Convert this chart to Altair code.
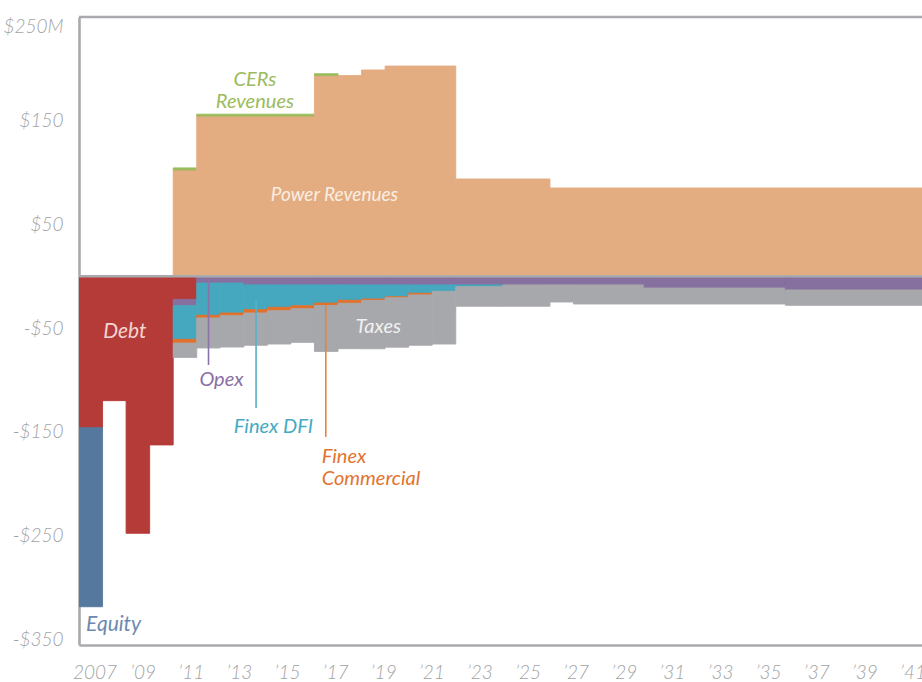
import altair as alt
import pandas as pd

# ---------------------------------------------------------------------------
# Annual project cash flows, $ millions (outflows entered as positive amounts)
# ---------------------------------------------------------------------------
years = list(range(2007, 2043))

power_revenues = [0, 0, 0, 0, 102.5, 154.5, 154.5, 154.5, 154.5, 154.5,
                  193.5, 193.5, 198.9, 202.7, 202.7, 202.7,
                  93.8, 93.8, 93.8, 93.8,
                  85.1, 85.1, 85.1, 85.1, 85.1, 85.1, 85.1, 85.1,
                  85.1, 85.1, 85.1, 85.1, 85.1, 85.1, 85.1, 85.1]
cers_revenues = [0, 0, 0, 0, 2.0, 1.8, 1.8, 1.8, 1.8, 1.8,
                 1.8, 0, 0, 0, 0, 0,
                 0, 0, 0, 0,
                 0, 0, 0, 0, 0, 0, 0, 0,
                 0, 0, 0, 0, 0, 0, 0, 0]
debt = [146.0, 119.9, 247.8, 162.6, 22.2, 0, 0, 0, 0, 0,
        0, 0, 0, 0, 0, 0,
        0, 0, 0, 0,
        0, 0, 0, 0, 0, 0, 0, 0,
        0, 0, 0, 0, 0, 0, 0, 0]
opex = [0, 0, 0, 0, 6.2, 6.5, 6.5, 8.3, 8.3, 8.3,
        8.3, 8.3, 8.3, 8.3, 8.3, 8.3,
        8.3, 8.3, 8.3, 8.3,
        8.3, 8.3, 8.3, 8.3, 11.3, 11.3, 11.3, 11.3,
        11.3, 11.3, 13.2, 13.2, 13.2, 13.2, 13.2, 13.2]
finex_dfi = [0, 0, 0, 0, 32.4, 31.1, 28.9, 23.9, 21.6, 20.1,
             17.5, 14.8, 13.6, 11.4, 8.1, 6.2,
             1.7, 1.7, 0, 0,
             0, 0, 0, 0, 0, 0, 0, 0,
             0, 0, 0, 0, 0, 0, 0, 0]
finex_commercial = [0, 0, 0, 0, 3.6, 2.6, 2.6, 3.2, 3.3, 2.9,
                    2.4, 2.9, 1.3, 1.0, 1.6, 0,
                    0, 0, 0, 0,
                    0, 0, 0, 0, 0, 0, 0, 0,
                    0, 0, 0, 0, 0, 0, 0, 0]
taxes = [0, 0, 0, 0, 13.8, 28.9, 30.2, 31.1, 32.1, 32.4,
         44.2, 43.8, 46.7, 47.6, 48.5, 50.8,
         18.9, 18.9, 20.6, 20.6,
         16.5, 18.4, 18.4, 18.4, 15.4, 15.4, 15.4, 15.4,
         15.4, 15.4, 14.8, 14.8, 14.8, 14.8, 14.8, 14.8]
equity = [172.6, 0, 0, 0, 0, 0, 0, 0, 0, 0,
          0, 0, 0, 0, 0, 0,
          0, 0, 0, 0,
          0, 0, 0, 0, 0, 0, 0, 0,
          0, 0, 0, 0, 0, 0, 0, 0]

# Axis ticks
x_tick_years = [2007, 2009, 2011, 2013, 2015, 2017, 2019, 2021, 2023,
                2025, 2027, 2029, 2031, 2033, 2035, 2037, 2039, 2041]
y_tick_values = [250, 150, 50, -50, -150, -250, -350]

# Series colours
C_POWER = "#E4AC81"
C_CERS = "#9BBB5C"
C_DEBT = "#B53B38"
C_OPEX = "#85709F"
C_DFI = "#46A8BE"
C_COMM = "#E2712B"
C_TAX = "#A7A8AB"
C_EQUITY = "#55789E"
C_FRAME = "#A9AAAD"
C_TICKTEXT = "#A2A3A6"

inflows = [("Power Revenues", power_revenues, C_POWER),
           ("CERs Revenues", cers_revenues, C_CERS)]
outflows = [("Debt", debt, C_DEBT),
            ("Opex", opex, C_OPEX),
            ("Finex DFI", finex_dfi, C_DFI),
            ("Finex Commercial", finex_commercial, C_COMM),
            ("Taxes", taxes, C_TAX),
            ("Equity", equity, C_EQUITY)]

# Stack inflows upward and outflows downward from zero, one step per year
rows = []
for i, yr in enumerate(years):
    top = 0.0
    for name, vals, col in inflows:
        v = vals[i]
        if v > 0:
            rows.append(dict(series=name, start=yr, end=yr + 1,
                             lo=round(top, 3), hi=round(top + v, 3), color=col))
            top += v
    bottom = 0.0
    for name, vals, col in outflows:
        v = vals[i]
        if v > 0:
            rows.append(dict(series=name, start=yr, end=yr + 1,
                             lo=round(bottom - v, 3), hi=round(bottom, 3), color=col))
            bottom -= v

# Join consecutive years whose segment is unchanged into one wider step
segments = []
last_by_key = {}
for r in rows:
    key = (r["series"], r["lo"], r["hi"])
    prev = last_by_key.get(key)
    if prev is not None and prev["end"] == r["start"]:
        prev["end"] = r["end"]
    else:
        seg = dict(r)
        last_by_key[key] = seg
        segments.append(seg)
flows = pd.DataFrame(segments)

# In-chart labels (year position, $M baseline) and their leader lines
centered_labels = pd.DataFrame([
    dict(text="CERs", x=2014.47, y=183.0, color=C_CERS, size=20),
    dict(text="Revenues", x=2014.47, y=162.0, color=C_CERS, size=20),
    dict(text="Power Revenues", x=2017.85, y=72.6, color="#FAEEE3", size=19),
    dict(text="Debt", x=2008.95, y=-59.5, color="#F1D5D2", size=21),
    dict(text="Taxes", x=2019.71, y=-54.7, color="#F1F1F2", size=20),
    dict(text="Opex", x=2013.05, y=-105.8, color="#8A6FA5", size=20),
    dict(text="Finex DFI", x=2015.26, y=-151.1, color="#45AAC2", size=20),
])
left_labels = pd.DataFrame([
    dict(text="Finex", x=2017.31, y=-180.0, color="#E3742F", size=20),
    dict(text="Commercial", x=2017.31, y=-201.2, color="#E3742F", size=20),
    dict(text="Equity", x=2007.30, y=-342.0, color="#6C89B1", size=21),
])
leaders = pd.DataFrame([
    dict(x=2012.50, y=-3.0, y2=-85.5, color="#8B72A8"),
    dict(x=2014.52, y=-22.9, y2=-127.0, color="#55B2C7"),
    dict(x=2017.48, y=-27.4, y2=-154.9, color="#E8823E"),
])

FONT = "Lato, 'Open Sans', sans-serif"
X_DOMAIN = [2007, 2042.8]
Y_DOMAIN = [-355.5, 250]

# Year labels sit a little wider apart than the yearly steps:
# first label 0.66 yr in, then 2.043 yr between consecutive labels.
LABEL_START = 0.66
LABEL_STRETCH = 1.0217
x_tick_pos = [round(2007 + LABEL_START + (yr - 2007) * LABEL_STRETCH, 4)
              for yr in x_tick_years]
label_year = f"round(2007 + (datum.value - 2007 - {LABEL_START}) / {LABEL_STRETCH})"
year_label_expr = (f"{label_year} == 2007 ? '2007' : "
                   f"'\u2019' + substring(toString({label_year}), 2)")


def xs():
    return alt.Scale(domain=X_DOMAIN, nice=False, zero=False)


def ys():
    return alt.Scale(domain=Y_DOMAIN, nice=False, zero=False)


# Same-colour outline closes the hairline seams between adjacent steps
bars = alt.Chart(flows).mark_rect(clip=True, strokeWidth=0.9).encode(
    x=alt.X("start:Q", scale=xs(),
            axis=alt.Axis(orient="bottom", values=x_tick_pos, grid=False,
                          ticks=False, title=None, domainColor=C_FRAME,
                          domainWidth=2.6, labelFont=FONT, labelFontSize=19,
                          labelFontWeight=300, labelFontStyle="italic",
                          labelColor=C_TICKTEXT, labelPadding=18,
                          labelFlush=False, labelOverlap=False,
                          labelBaseline="top", labelExpr=year_label_expr)),
    x2="end:Q",
    y=alt.Y("lo:Q", scale=ys(),
            axis=alt.Axis(orient="left", values=y_tick_values, grid=False,
                          ticks=False, title=None, domainColor=C_FRAME,
                          domainWidth=2.6, labelFont=FONT, labelFontSize=19,
                          labelFontWeight=300, labelFontStyle="italic",
                          labelColor=C_TICKTEXT, labelPadding=16,
                          labelFlush=True, labelOverlap=False,
                          labelExpr="datum.value == 250 ? '$250M' : "
                                    "(datum.value < 0 ? '-$' + (-datum.value) "
                                    ": '$' + datum.value)")),
    y2="hi:Q",
    color=alt.Color("color:N", scale=None),
    stroke=alt.Stroke("color:N", scale=None),
    tooltip=["series:N", "start:Q"],
)

# Zero baseline and the upper edge of the frame
frame_rules = alt.Chart(pd.DataFrame({"v": [0, Y_DOMAIN[1]]})).mark_rule(
    color=C_FRAME, strokeWidth=2.6
).encode(y=alt.Y("v:Q", scale=ys(), axis=None))

leader_lines = alt.Chart(leaders).mark_rule(strokeWidth=1.6).encode(
    x=alt.X("x:Q", scale=xs(), axis=None),
    y=alt.Y("y:Q", scale=ys(), axis=None),
    y2="y2:Q",
    color=alt.Color("color:N", scale=None),
)

text_center = alt.Chart(centered_labels).mark_text(
    font=FONT, fontStyle="italic", align="center", baseline="alphabetic"
).encode(
    x=alt.X("x:Q", scale=xs(), axis=None),
    y=alt.Y("y:Q", scale=ys(), axis=None),
    text="text:N",
    color=alt.Color("color:N", scale=None),
    size=alt.Size("size:Q", scale=None, legend=None),
)

text_left = alt.Chart(left_labels).mark_text(
    font=FONT, fontStyle="italic", align="left", baseline="alphabetic"
).encode(
    x=alt.X("x:Q", scale=xs(), axis=None),
    y=alt.Y("y:Q", scale=ys(), axis=None),
    text="text:N",
    color=alt.Color("color:N", scale=None),
    size=alt.Size("size:Q", scale=None, legend=None),
)

# Scales are shared; only the step layer carries axes
chart = alt.layer(
    bars, frame_rules, leader_lines, text_center, text_left
).resolve_axis(x="independent", y="independent").properties(
    width=843,
    height=628,
    autosize=alt.AutoSizeParams(type="none"),
    padding={"left": 79, "top": 17, "right": 0, "bottom": 37},
).configure_view(stroke=None)

chart.save("out.html", embed_options={"renderer": "svg", "actions": False})
